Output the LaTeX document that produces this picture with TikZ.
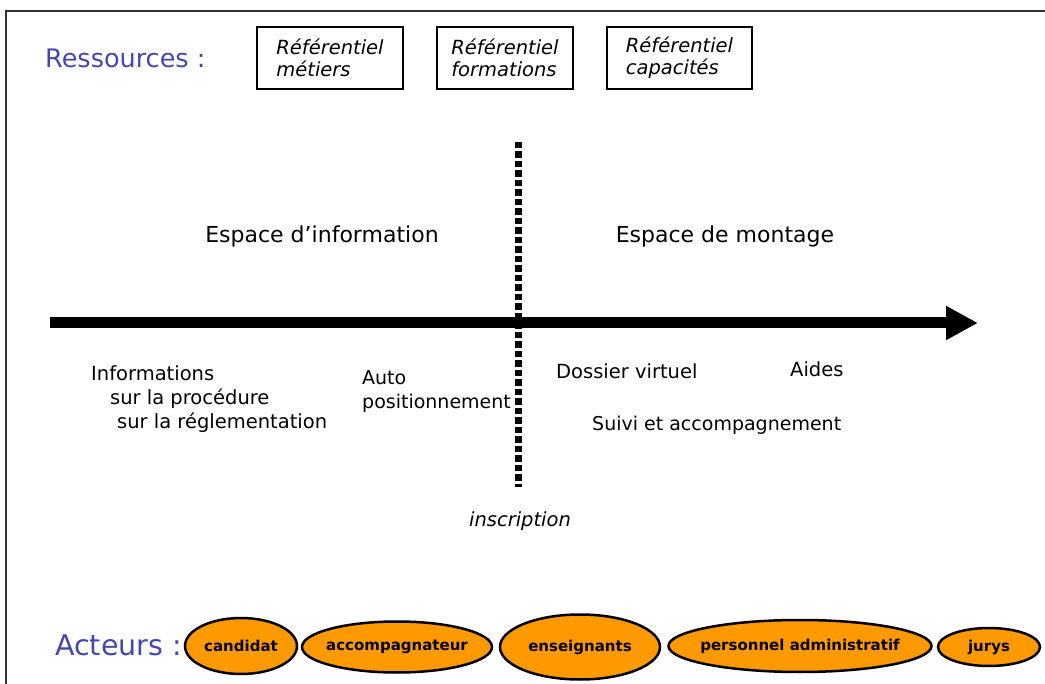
\documentclass[tikz,border=0pt]{standalone}
\usepackage{fontspec}
\setmainfont{DejaVu Sans}
\usetikzlibrary{positioning,shapes.geometric,arrows.meta}
\definecolor{titleblue}{RGB}{70,70,175}
\definecolor{acteurorange}{RGB}{255,153,0}
\tikzset{
  refbox/.style={draw, line width=1.6pt, align=left, font=\fontsize{19.5}{22}\selectfont\itshape,
    minimum height=62pt, inner xsep=6pt},
  acteur/.style={ellipse, draw, line width=2.5pt, fill=acteurorange, inner xsep=-40pt, inner ysep=0pt,
    font=\fontsize{15}{17}\selectfont\bfseries},
  label/.style={font=\fontsize{19.5}{24}\selectfont, anchor=west, align=left, inner sep=0pt},
}
\begin{document}
\begin{tikzpicture}[x=1pt, y=-1pt]
    \useasboundingbox (0,0) rectangle (1045,684);
    % cadre
    \draw[line width=2pt, black!80] (1045,11) -- (6,11) -- (6,684);
    % ressources
    \node[font=\fontsize{25.5}{28}\selectfont, text=titleblue, anchor=west, inner sep=0pt] (ress) at (45,58) {Ressources :};
    \node[refbox, minimum width=146pt] (metiers) at (330,58) {Référentiel\\métiers};
    \node[refbox, minimum width=136pt] (formations) at (505,58) {Référentiel\\formations};
    \node[refbox, minimum width=145pt] (capacites) at (679.5,58) {Référentiel\\capacités};
    % axes
    \coordinate (debut) at (50,323);
    \coordinate (fin) at (978,323);
    \coordinate (haut) at (518,142);
    \coordinate (bas) at (518,487);
    \draw[line width=7pt, dash pattern=on 6.5pt off 3pt] (haut) -- (bas);
    \draw[line width=11pt, -{Triangle[length=32pt, width=32pt]}] (debut) -- (fin);
    % espaces
    \node[font=\fontsize{22}{26}\selectfont] (info) at (322,236) {Espace d'information};
    \node[font=\fontsize{22}{26}\selectfont] (montage) at (725,236) {Espace de montage};
    \node[label] (informations) at (91,373) {Informations};
    \node[label] (procedure) at (110,399) {sur la procédure};
    \node[label] (reglementation) at (117,423) {sur la réglementation};
    \node[label, font=\fontsize{19}{24}\selectfont] (auto) at (362,392) {Auto\\positionnement};
    \node[label] (dossier) at (556,371) {Dossier virtuel};
    \node[label] (aides) at (790,369) {Aides};
    \node[label, font=\fontsize{19}{24}\selectfont] (suivi) at (592,425) {Suivi et accompagnement};
    \node[font=\fontsize{19.5}{22}\selectfont\itshape] (inscription) at (520,521) {inscription};
    % acteurs
    \node[font=\fontsize{28.5}{32}\selectfont, text=titleblue, anchor=west, inner sep=0pt] (acteurs) at (55,645) {Acteurs :};
    \node[acteur, minimum width=112pt, minimum height=56pt] (candidat) at (241,646) {candidat};
    \node[acteur, minimum width=190pt, minimum height=51pt] (accomp) at (397,647) {accompagnateur};
    \node[acteur, minimum width=160pt, minimum height=65pt] (enseignants) at (580,647) {enseignants};
    \node[acteur, minimum width=263pt, minimum height=52pt] (personnel) at (800,646) {personnel administratif};
    \node[acteur, minimum width=102pt, minimum height=38pt] (jurys) at (989,647) {jurys};
\end{tikzpicture}
\end{document}
